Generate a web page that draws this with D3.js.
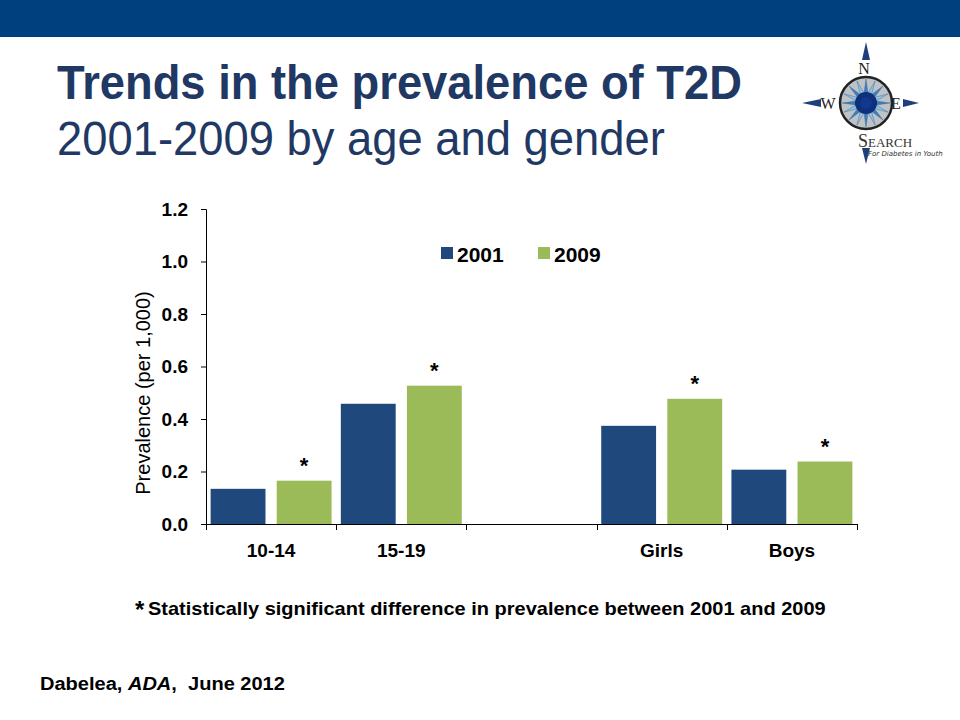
<!DOCTYPE html>
<html>
<head>
<meta charset="utf-8">
<script src="https://cdn.jsdelivr.net/npm/d3@7/dist/d3.min.js"></script>
<style>
  html, body { margin: 0; padding: 0; background: #fff; }
  svg { display: block; font-family: Arial, "Liberation Sans", sans-serif; }
</style>
</head>
<body>
<svg id="chart" width="960" height="720"></svg>
<script>
// ---- Data ----
const categories = ["10-14", "15-19", "", "Girls", "Boys"];
const seriesNames = ["2001", "2009"];
const values2001 = [0.134, 0.458, null, 0.374, 0.207];
const values2009 = [0.165, 0.527, null, 0.477, 0.238];
const significant = [true, true, null, true, true];
const yTicks = [0.0, 0.2, 0.4, 0.6, 0.8, 1.0, 1.2];
const colors = ["#1F497D", "#9BBB59"];

const svg = d3.select("#chart");

function fitWidth(sel, x0, width) {
  const bb = sel.node().getBBox();
  const s = width / bb.width;
  sel.attr("transform", `translate(${x0},0) scale(${s},1) translate(${-bb.x},0)`);
}

// ---- Header band ----
svg.append("rect").attr("x", 0).attr("y", 0).attr("width", 960).attr("height", 37).attr("fill", "#00407F");

// ---- Title ----
const titleColor = "#1F3864";
const t1 = svg.append("text").attr("x", 0).attr("y", 99)
  .attr("font-size", 49).attr("font-weight", "bold").attr("fill", titleColor)
  .text("Trends in the prevalence of T2D");
fitWidth(t1, 57, 685);
const t2 = svg.append("text").attr("x", 0).attr("y", 155)
  .attr("font-size", 48).attr("fill", titleColor)
  .text("2001-2009 by age and gender");
fitWidth(t2, 57, 608);

// ---- Logo ----
const logo = svg.append("g").attr("transform", "translate(866,103)");
const navy = "#1F3F7A";
logo.append("path").attr("d", "M0,-61 L-4,-43 L4,-43 Z").attr("fill", navy);
logo.append("path").attr("d", "M0,61 L-4,45 L4,45 Z").attr("fill", navy);
logo.append("path").attr("d", "M-64,0 L-45,-4 L-45,4 Z").attr("fill", navy);
logo.append("path").attr("d", "M53,0 L37,-4 L37,4 Z").attr("fill", navy);
logo.append("circle").attr("r", 26).attr("fill", "#BFC3C8").attr("stroke", "#222").attr("stroke-width", 2.5);
const rays = d3.range(16).map(i => i * Math.PI / 8);
rays.forEach((a, i) => {
  const R = 24, r = 7;
  const p = [[Math.sin(a) * R, -Math.cos(a) * R],
             [Math.sin(a + 0.35) * r, -Math.cos(a + 0.35) * r],
             [Math.sin(a - 0.35) * r, -Math.cos(a - 0.35) * r]];
  logo.append("path").attr("d", "M" + p.map(q => q.join(",")).join("L") + "Z")
    .attr("fill", i % 2 ? "#8FC3E0" : "#3E7FB8").attr("stroke", "#2A5E96").attr("stroke-width", 0.4);
});
logo.append("circle").attr("r", 11).attr("fill", "#0E2F7A");
logo.append("circle").attr("r", 6).attr("fill", "#12378C");
const serif = "'Liberation Serif', 'DejaVu Serif', serif";
logo.append("text").attr("x", -2).attr("y", -29).attr("text-anchor", "middle").attr("font-family", serif).attr("font-size", 16).attr("fill", "#222").text("N");
logo.append("text").attr("x", -38).attr("y", 6).attr("text-anchor", "middle").attr("font-family", serif).attr("font-size", 16).attr("fill", "#222").text("W");
logo.append("text").attr("x", 30).attr("y", 6).attr("text-anchor", "middle").attr("font-family", serif).attr("font-size", 16).attr("fill", "#222").text("E");
logo.append("text").attr("x", -8).attr("y", 44).attr("font-family", serif).attr("font-size", 18).attr("fill", "#333").text("S");
logo.append("text").attr("x", 2).attr("y", 44).attr("font-family", serif).attr("font-size", 13).attr("fill", "#333").text("EARCH");
logo.append("text").attr("x", 2).attr("y", 53).attr("font-family", "'DejaVu Sans', sans-serif").attr("font-style", "italic").attr("font-size", 7).attr("fill", "#333").text("For Diabetes in Youth");

// ---- Chart ----
const x0 = d3.scaleBand().domain(d3.range(categories.length)).range([206, 857]).padding(0);
const x1 = d3.scaleBand().domain(seriesNames).range([0, x0.bandwidth()]).paddingInner(0.17).paddingOuter(0.07);
const y = d3.scaleLinear().domain([0, 1.2]).range([524, 209]);

const g = svg.append("g");
const series = [values2001, values2009];
series.forEach((vals, si) => {
  g.append("g").selectAll("rect")
    .data(vals.map((v, i) => ({ v, i })).filter(d => d.v != null))
    .join("rect")
    .attr("x", d => x0(d.i) + x1(seriesNames[si]))
    .attr("y", d => y(d.v))
    .attr("width", x1.bandwidth())
    .attr("height", d => y(0) - y(d.v))
    .attr("fill", colors[si]);
});

// asterisks
g.append("g").selectAll("text")
  .data(values2009.map((v, i) => ({ v, i, s: significant[i] })).filter(d => d.s))
  .join("text")
  .attr("x", d => x0(d.i) + x1("2009") + x1.bandwidth() / 2)
  .attr("y", d => y(d.v) - 8)
  .attr("text-anchor", "middle")
  .attr("font-size", 22).attr("font-weight", "bold").attr("fill", "#000")
  .text("*");

// y axis
const yAxis = d3.axisLeft(y).tickValues(yTicks).tickFormat(d3.format(".1f")).tickSize(5).tickPadding(13);
const ya = svg.append("g").attr("transform", "translate(206,0)").call(yAxis);
ya.select(".domain").attr("stroke", "#000").attr("stroke-width", 1).attr("d", "M-5,209.5H0.5V524.5H-5");
ya.selectAll(".tick line").attr("stroke", "#000");
ya.selectAll(".tick text").attr("font-size", 19).attr("font-weight", "bold").attr("fill", "#000")
  .attr("font-family", "Arial, 'Liberation Sans', sans-serif");

// x axis
const xTickPos = d3.range(categories.length + 1).map(i => 206 + i * x0.bandwidth());
const xa = svg.append("g");
xa.append("line").attr("x1", 206).attr("x2", 857).attr("y1", 524.5).attr("y2", 524.5).attr("stroke", "#000");
xa.selectAll("line.tk").data(xTickPos).join("line").attr("class", "tk")
  .attr("x1", d => Math.round(d) + 0.5).attr("x2", d => Math.round(d) + 0.5)
  .attr("y1", 524).attr("y2", 530).attr("stroke", "#000");
xa.selectAll("text").data(categories.map((c, i) => ({ c, i })))
  .join("text")
  .attr("x", d => x0(d.i) + x0.bandwidth() / 2)
  .attr("y", 557)
  .attr("text-anchor", "middle")
  .attr("font-size", 19).attr("font-weight", "bold").attr("fill", "#000")
  .text(d => d.c);

// y-axis label
svg.append("text")
  .attr("transform", "translate(150,393) rotate(-90)")
  .attr("text-anchor", "middle")
  .attr("font-size", 20).attr("fill", "#000")
  .text("Prevalence (per 1,000)");

// legend
const legend = svg.append("g");
const legX = [441, 538];
seriesNames.forEach((s, i) => {
  legend.append("rect").attr("x", legX[i]).attr("y", 247).attr("width", 12).attr("height", 12).attr("fill", colors[i]);
  legend.append("text").attr("x", legX[i] + 16).attr("y", 262)
    .attr("font-size", 21).attr("font-weight", "bold").attr("fill", "#000").text(s);
});

// footnote
svg.append("text").attr("x", 135).attr("y", 618).attr("font-size", 24).attr("font-weight", "bold").attr("fill", "#000").text("*");
const fn = svg.append("text").attr("x", 0).attr("y", 615).attr("fill", "#000").attr("font-weight", "bold")
  .attr("font-size", 18).text("Statistically significant difference in prevalence between 2001 and 2009");
fitWidth(fn, 148, 678);

// citation
const cit = svg.append("text").attr("x", 0).attr("y", 690).attr("font-size", 19).attr("font-weight", "bold").attr("fill", "#000");
cit.append("tspan").text("Dabelea, ");
cit.append("tspan").attr("font-style", "italic").text("ADA");
cit.append("tspan").text(",\u00A0 June 2012");
fitWidth(cit, 40, 245);
</script>
</body>
</html>
